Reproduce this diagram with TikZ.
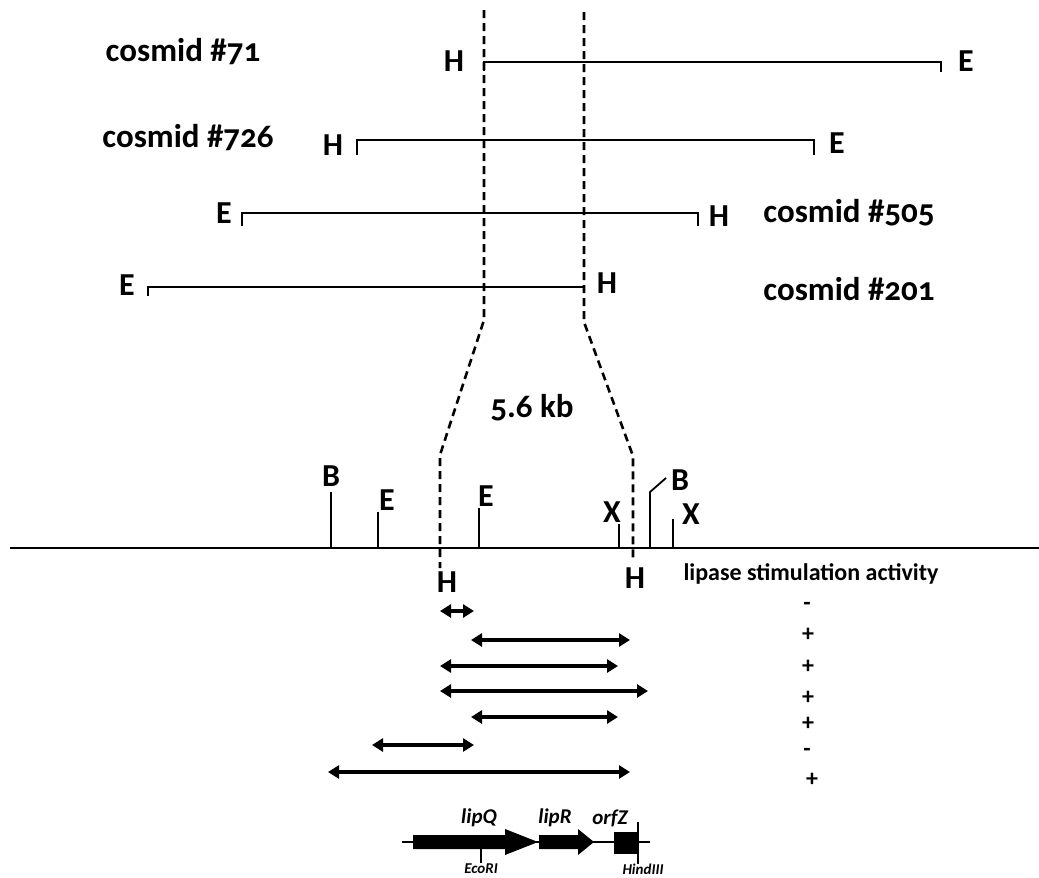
\documentclass[tikz,border=0pt]{standalone}
\usepackage{fontspec}
\setmainfont{Carlito}[Numbers=OldStyle]
\usetikzlibrary{arrows.meta}
\begin{document}
\begin{tikzpicture}[x=1pt,y=-1pt,
  lbl/.style={font=\fontsize{33}{36}\selectfont\bfseries, inner sep=0pt},
  site/.style={font=\fontsize{32}{34}\selectfont\bfseries, inner sep=0pt},
  sign/.style={font=\fontsize{24}{26}\selectfont\bfseries, inner sep=0pt},
  gene/.style={font=\fontsize{21}{23}\selectfont\bfseries\itshape, inner sep=0pt},
  enz/.style={font=\fontsize{15}{17}\selectfont\bfseries\itshape, inner sep=0pt},
  clone/.style={line width=1.8pt},
  guide/.style={line width=2.6pt, dash pattern=on 8pt off 5pt},
  frag/.style={line width=4.4pt, {Triangle[length=11pt,width=13pt]}-{Triangle[length=11pt,width=13pt]}},
  tick/.style={line width=1.8pt}
]
\useasboundingbox (0,0) rectangle (1039,878);

% dashed guides
\coordinate (gL1) at (484,10); \coordinate (gL2) at (484,320); \coordinate (gL3) at (440,455); \coordinate (gL4) at (440,568);
\coordinate (gR1) at (584,12); \coordinate (gR2) at (584,322); \coordinate (gR3) at (633,456); \coordinate (gR4) at (633,558);
\draw[guide] (gL1) -- (gL2) -- (gL3) -- (gL4);
\draw[guide] (gR1) -- (gR2) -- (gR3) -- (gR4);

% cosmid #71
\node[lbl] (c71) at (183,52) {cosmid \#71};
\coordinate (a1) at (484,62); \coordinate (a2) at (941,62);
\draw[clone] ([yshift=-9pt]a1) -- (a1) -- (a2) -- ([yshift=-10pt]a2);
\node[site] (h71) at (454,61) {H};
\node[site] (e71) at (966,61) {E};

% cosmid #726
\node[lbl] (c726) at (188,138) {cosmid \#726};
\coordinate (b1) at (357,140); \coordinate (b2) at (814,140);
\draw[clone] ([yshift=-15pt]b1) -- (b1) -- (b2) -- ([yshift=-15pt]b2);
\node[site] (h726) at (333,145) {H};
\node[site] (e726) at (837,143) {E};

% cosmid #505
\node[lbl] (c505) at (849,213) {cosmid \#505};
\coordinate (d1) at (242,213); \coordinate (d2) at (698,213);
\draw[clone] ([yshift=-13pt]d1) -- (d1) -- (d2) -- ([yshift=-13pt]d2);
\node[site] (e505) at (224,213) {E};
\node[site] (h505) at (719,216) {H};

% cosmid #201
\node[lbl] (c201) at (849,289) {cosmid \#201};
\coordinate (f1) at (148,287); \coordinate (f2) at (584,287);
\draw[clone] ([yshift=-9pt]f1) -- (f1) -- (f2) -- ([yshift=-6pt]f2);
\node[site] (e201) at (127,285) {E};
\node[site] (h201) at (607,283) {H};

\node[lbl] (kb) at (532,408) {5.6 kb};

% main map
\coordinate (m0) at (10,548); \coordinate (m1) at (1039,548);
\draw[line width=2.2pt] (m0) -- (m1);
\draw[tick] (331,548) -- (331,492); \node[site] (sB1) at (331,476) {B};
\draw[tick] (378,548) -- (378,512); \node[site] (sE1) at (387,500) {E};
\draw[tick] (479,548) -- (479,508); \node[site] (sE2) at (486,496) {E};
\draw[tick] (619,548) -- (619,524); \node[site] (sX1) at (612,512) {X};
\draw[tick] (650,548) -- (650,492) -- (666,478); \node[site] (sB2) at (680,480) {B};
\draw[tick] (673,548) -- (673,519); \node[site] (sX2) at (691,514) {X};
\node[site] (sH1) at (447,582) {H};
\node[site] (sH2) at (635,578) {H};
\node[font=\fontsize{24}{26}\selectfont\bfseries, inner sep=0pt] (act) at (811,574) {lipase stimulation activity};

% fragments
\draw[frag] (440,611) -- (474,611);
\draw[frag] (471,640) -- (630,640);
\draw[frag] (440,666) -- (618,666);
\draw[frag] (440,691) -- (648,691);
\draw[frag] (471,717) -- (618,717);
\draw[frag] (372,745) -- (474,745);
\draw[frag] (328,772) -- (630,772);

\node[sign] (s1) at (807,606) {-};
\node[sign] (s2) at (808,635) {+};
\node[sign] (s3) at (808,667) {+};
\node[sign] (s4) at (808,698) {+};
\node[sign] (s5) at (808,724) {+};
\node[sign] (s6) at (807,752) {-};
\node[sign] (s7) at (812,780) {+};

% gene map
\draw[line width=1.5pt] (402,842) -- (650,842);
\fill (413,835) -- (505,835) -- (505,829) -- (538,842) -- (505,855) -- (505,849) -- (413,849) -- cycle;
\fill (539,835) -- (578,835) -- (578,829) -- (594,842) -- (578,855) -- (578,849) -- (539,849) -- cycle;
\fill (614,832) rectangle (638,854);
\draw[line width=1.5pt] (481,849) -- (481,863);
\draw[line width=1.5pt] (638,822) -- (638,864);
\node[gene] (lipQ) at (479,818) {lipQ};
\node[gene] (lipR) at (555,818) {lipR};
\node[gene] (orfZ) at (610,818) {orfZ};
\node[enz] (eco) at (481,869) {EcoRI};
\node[enz] (hind) at (643,869) {HindIII};
\end{tikzpicture}
\end{document}
